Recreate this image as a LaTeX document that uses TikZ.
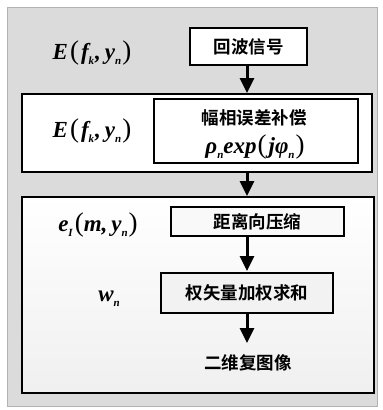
\documentclass[tikz,border=0pt]{standalone}
\usepackage{fontspec}
\setmainfont{Liberation Serif}
\newfontfamily\cjk{Noto Sans CJK SC}[BoldFont={Noto Sans CJK SC Bold}]
\usetikzlibrary{arrows.meta}
\newcommand\sbx[1]{\raisebox{-0.45ex}{\fontsize{11}{11}\selectfont #1}}
\newcommand\bp[1]{{\fontsize{27}{27}\selectfont\upshape\mdseries #1}}
\begin{document}
\begin{tikzpicture}[x=1pt,y=-1pt,
  panel/.style={draw=black,line width=1.6pt,fill=white},
  proc/.style={draw=black,line width=1.6pt,fill=white,font=\cjk\bfseries\fontsize{17.5}{20}\selectfont,align=center,inner sep=0pt},
  lbl/.style={font=\bfseries\itshape\fontsize{23}{25}\selectfont,inner sep=0pt},
  arr/.style={line width=3pt,-{Triangle[length=15pt,width=14pt]}}]
\useasboundingbox (0,0) rectangle (383,410);
\fill[white] (0,0) rectangle (383,410);
\draw[draw=gray!60,fill=gray!28,line width=0.6pt] (7,7) rectangle (377,406);
% panels
\draw[panel] (22,94) rectangle (372,172);
\shade[top color=white,bottom color=gray!12] (22,197) rectangle (374,393);
\draw[draw=black,line width=1.6pt] (22,197) rectangle (374,393);
% boxes
\node[proc,minimum width=117pt,minimum height=37pt] (b1) at (248.5,46.5) {回波信号};
\node[proc,minimum width=204pt,minimum height=64pt] (b2) at (256,131) {};
\node[font=\cjk\bfseries\fontsize{17.5}{20}\selectfont,inner sep=0pt] (b2t) at (254,118) {幅相误差补偿};
\node[lbl] (b2m) at (255,147) {ρ\sbx{n}exp\kern1pt\bp{(}\kern2pt jφ\sbx{n}\kern1pt\bp{)}};
\node[proc,minimum width=173pt,minimum height=29pt,fill=gray!5] (b3) at (257.5,221.5) {距离向压缩};
\node[proc,minimum width=172pt,minimum height=40pt,fill=gray!10] (b4) at (247,293) {权矢量加权求和};
\node[font=\cjk\bfseries\fontsize{17.5}{20}\selectfont,inner sep=0pt] (b5) at (248,363) {二维复图像};
% labels
\node[lbl] (l1) at (92,53) {E\kern2pt\bp{(}\kern2pt f\sbx{k}\kern1pt,\kern4pt y\sbx{n}\kern1pt\bp{)}};
\node[lbl] (l2) at (92,131) {E\kern2pt\bp{(}\kern2pt f\sbx{k}\kern1pt,\kern4pt y\sbx{n}\kern1pt\bp{)}};
\node[lbl] (l3) at (98,225) {e\sbx{I}\kern2pt\bp{(}m,\kern4pt y\sbx{n}\kern1pt\bp{)}};
\node[lbl] (l4) at (109,299) {w\sbx{n}};
% arrows
\coordinate (a1) at (247,93);
\coordinate (a2s) at (247,172);
\coordinate (a2) at (247,196);
\coordinate (a3s) at (247,236);
\coordinate (a3) at (247,271);
\coordinate (a4) at (247,343);
\draw[arr] (b1.south -| a1) -- (a1);
\draw[arr] (a2s) -- (a2);
\draw[arr] (a3s) -- (a3);
\draw[arr] (b4.south -| a4) -- (a4);
\end{tikzpicture}
\end{document}
